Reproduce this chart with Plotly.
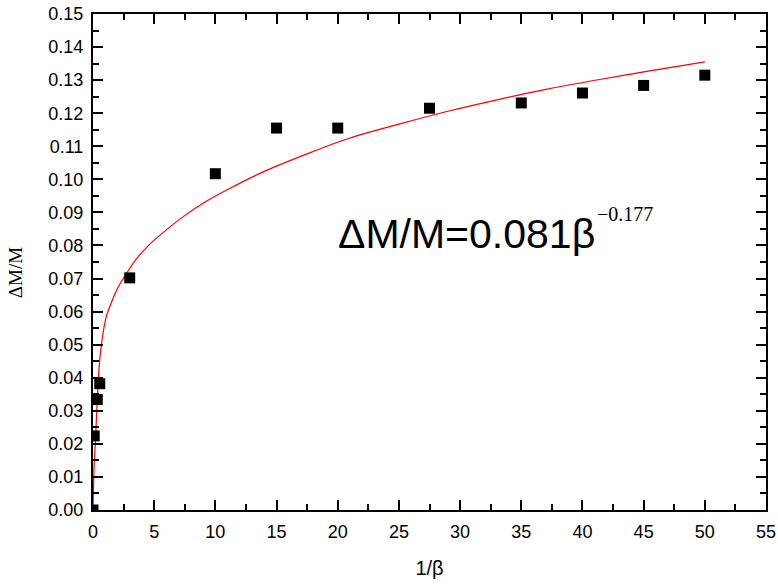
import plotly.graph_objects as go

# measured data (1/beta, dM/M)
inv_beta = [0.0, 0.1, 0.35, 0.55, 3, 10, 15, 20, 27.5, 35, 40, 45, 50]
dm_m = [0.0, 0.0224, 0.0334, 0.0382, 0.0702, 0.1017, 0.1155, 0.1155, 0.1215, 0.1231, 0.1261, 0.1284, 0.1315]

# fitted curve
fit_x = [0.0, 0.05, 0.1, 0.2, 0.35, 0.55, 0.8, 1.1, 1.5, 2.0, 2.8, 3.5, 4.5, 5.5, 7.4, 9.0, 11.2, 14.0, 17.7, 21.0, 25.0, 29.0, 33.2, 37.0, 41.4, 45.5, 50.0]
fit_y = [0.0, 0.0081, 0.0140, 0.0210, 0.0333, 0.0454, 0.0530, 0.0587, 0.0627, 0.0670, 0.0719, 0.0757, 0.0799, 0.0832, 0.0888, 0.0928, 0.0973, 0.1024, 0.1080, 0.1125, 0.1167, 0.1206, 0.1242, 0.1272, 0.1302, 0.1328, 0.1355]

fig = go.Figure()
fig.add_trace(go.Scatter(x=fit_x, y=fit_y, mode="lines",
                         line=dict(color="#ff0000", width=1.2, shape="spline", smoothing=0.8),
                         showlegend=False))
fig.add_trace(go.Scatter(x=inv_beta, y=dm_m, mode="markers",
                         marker=dict(symbol="square", size=11, color="black"),
                         showlegend=False))

axis_common = dict(showgrid=False, zeroline=False, showline=True, linecolor="black",
                   linewidth=2, mirror="ticks", ticks="inside", tickcolor="black",
                   tickwidth=1.5, ticklen=10, automargin=False, ticklabelstandoff=4,
                   tickfont=dict(family="Liberation Sans, Arial", size=18, color="black"))

fig.update_xaxes(range=[0, 55], dtick=5, tick0=0,
                 minor=dict(dtick=2.5, ticks="inside", ticklen=6, tickwidth=1.5, tickcolor="black"),
                 title=dict(text="1/β", font=dict(family="Liberation Sans, Arial", size=20, color="black"), standoff=20),
                 **axis_common)
fig.update_yaxes(range=[0, 0.15], dtick=0.01, tick0=0, tickformat=".2f",
                 minor=dict(dtick=0.005, ticks="inside", ticklen=6, tickwidth=1.5, tickcolor="black"),
                 **axis_common)

# y-axis title placed as a rotated annotation
fig.add_annotation(x=-0.114, y=0.478, xref="paper", yref="paper", xanchor="center", yanchor="middle",
                   showarrow=False, textangle=-90, text="ΔM/M",
                   font=dict(family="Liberation Serif, Times New Roman", size=19, color="black"))

# fit equation: main part and exponent
fig.add_annotation(x=19.85, y=0.0835, xref="x", yref="y", xanchor="left", yanchor="middle",
                   showarrow=False, text="ΔM/M=0.081β",
                   font=dict(family="Liberation Sans, Arial", size=41, color="black"))
fig.add_annotation(x=41.0, y=0.0895, xref="x", yref="y", xanchor="left", yanchor="middle",
                   showarrow=False, text="−0.177",
                   font=dict(family="Liberation Serif, Times New Roman", size=20, color="black"))

fig.update_layout(width=778, height=585, margin=dict(l=93, r=12, t=14, b=75),
                  plot_bgcolor="white", paper_bgcolor="white")

fig.write_html("out.html")
